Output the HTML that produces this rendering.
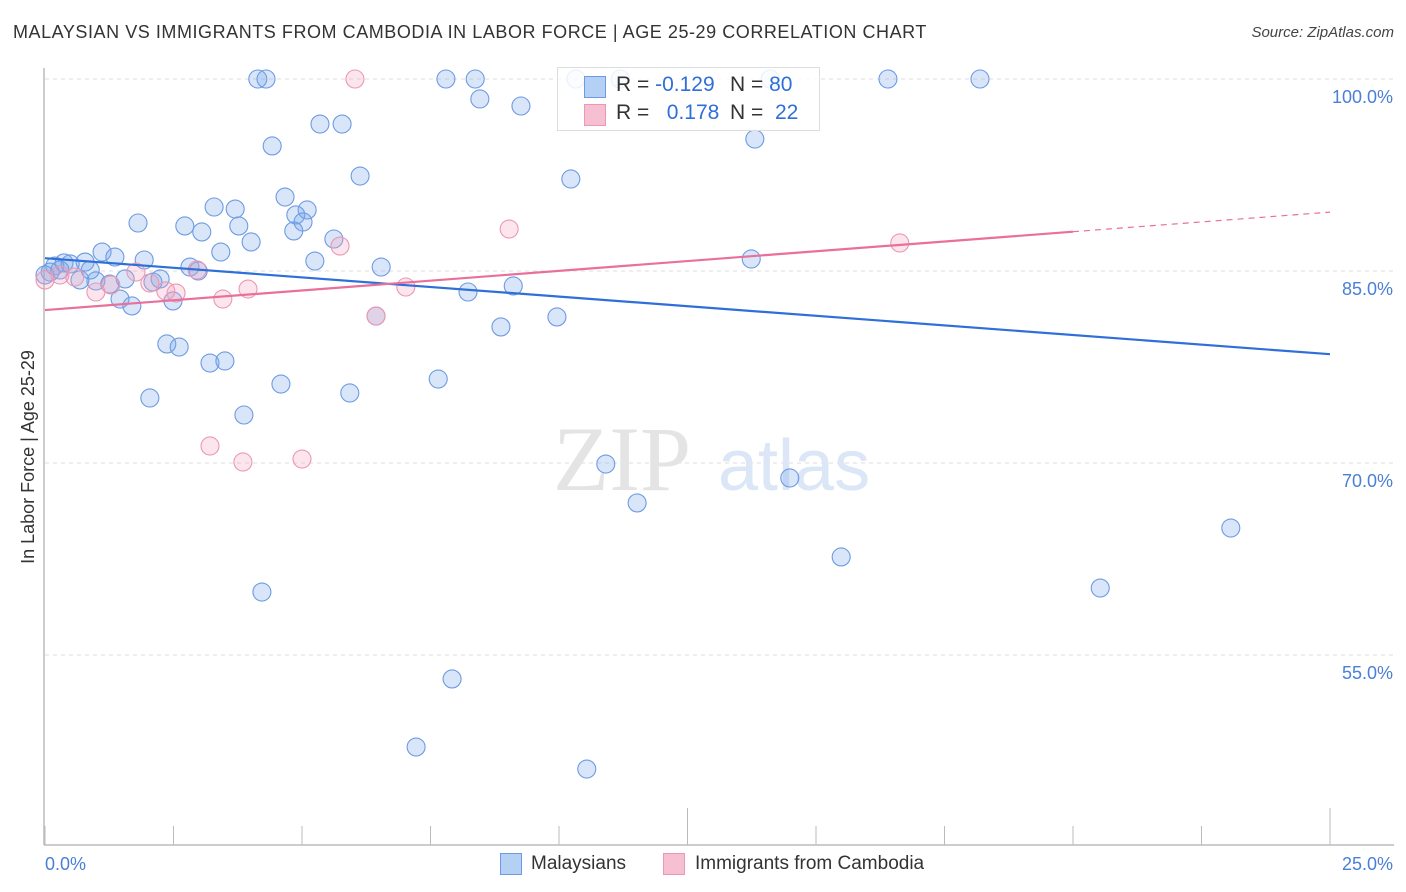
<!DOCTYPE html>
<html><head><meta charset="utf-8">
<style>
body{margin:0;background:#fff;font-family:"Liberation Sans",sans-serif;}
#wrap{position:relative;width:1406px;height:892px;overflow:hidden;}
.t{position:absolute;white-space:nowrap;}
</style></head>
<body>
<div id="wrap">
<div class="t" style="left:13px;top:22px;font-size:18px;color:#333;letter-spacing:0.55px">MALAYSIAN VS IMMIGRANTS FROM CAMBODIA IN LABOR FORCE | AGE 25-29 CORRELATION CHART</div>
<div class="t" style="right:12px;top:24px;font-size:15px;color:#444;font-style:italic">Source: ZipAtlas.com</div>
<svg id="svg" width="1406" height="892" style="position:absolute;left:0;top:0"></svg>
</div>
<script>
const blueX=[4.14,4.30,7.80,8.37,10.33,11.19,14.11,16.40,18.19,8.46,9.26,5.35,5.78,4.42,13.81,6.13,10.23,4.67,3.29,3.70,5.10,4.88,1.81,2.72,5.02,3.05,3.77,4.84,5.62,4.01,3.42,1.11,1.36,1.93,5.25,6.54,13.74,0.37,0.78,0.19,0.49,0.10,2.82,2.98,1.56,0.99,0.68,2.24,2.10,1.26,9.11,8.23,1.46,1.69,2.49,9.96,8.87,6.44,2.37,2.61,3.21,3.50,4.59,7.65,5.93,2.04,3.87,10.91,14.49,11.52,23.07,15.49,20.53,4.22,7.92,7.22,10.54,0.0,0.29,0.88];
const blueY=[100,100,100,100,100,100,100,100,100,98.44,97.89,96.48,96.48,94.77,95.31,92.42,92.19,90.78,90.0,89.84,89.77,89.38,88.75,88.52,88.83,88.05,88.52,88.13,87.5,87.27,86.48,86.48,86.09,85.86,85.78,85.31,85.94,85.63,85.70,85.39,85.55,84.92,85.31,85.0,84.38,84.22,84.30,84.38,84.14,83.98,83.83,83.36,82.81,82.27,82.66,81.41,80.63,81.48,79.30,79.06,77.81,77.97,76.17,76.56,75.47,75.08,73.75,69.92,68.83,66.88,64.92,62.66,60.23,59.92,53.13,47.81,46.09,84.69,85.08,85.08];
const pinkX=[6.03,10.74,9.03,16.63,5.74,1.77,2.96,0.29,0.58,2.04,1.28,3.95,0.99,2.55,2.35,3.46,7.02,6.44,3.21,3.85,5.0,0.0];
const pinkY=[100,97.34,88.28,87.19,86.95,84.92,85.08,84.69,84.53,84.06,83.91,83.59,83.36,83.28,83.44,82.81,83.75,81.48,71.33,70.08,70.31,84.30];
const blueTrend=[86.0,78.5];
const pinkTrend=[81.95,89.6];
const yTicks=[100,85,70,55];
const xTickLabels=["0.0%","25.0%"];

const X0=45,X1=1330,Y100=79,PPY=12.8;
const sx=v=>X0+(X1-X0)*v/25;
const sy=v=>Y100+(100-v)*PPY;
const svg=document.getElementById('svg');
const NS='http://www.w3.org/2000/svg';
function mk(tag,attrs){const e=document.createElementNS(NS,tag);for(const k in attrs)e.setAttribute(k,attrs[k]);svg.appendChild(e);return e;}

yTicks.forEach(v=>{
 const g=mk('line',{x1:X0,x2:1394,y1:sy(v),y2:sy(v),stroke:'#ddd','stroke-dasharray':'4,4','stroke-width':1});
 
 
 const t=mk('text',{x:1393,y:sy(v)+24,'text-anchor':'end','font-size':18,fill:'#4a7fd6','font-family':'Liberation Sans, sans-serif'});
 t.textContent=v.toFixed(1)+'%';
 
 
});
let a=mk('line',{x1:44,x2:44,y1:68,y2:845,stroke:'#bbb','stroke-width':1.5});


a=mk('line',{x1:44,x2:1394,y1:845,y2:845,stroke:'#bbb','stroke-width':1.5});


for(let i=0;i<=10;i++){
 const x=X0+(X1-X0)*i/10;
 const tk=mk('line',{x1:x,x2:x,y1:(i==5||i==10)?808:826,y2:845,stroke:'#bbb','stroke-width':1});
 
 
}
[[X0,'start',xTickLabels[0]],[1393,'end',xTickLabels[1]]].forEach(([x,an,s])=>{
 const t=mk('text',{x:x,y:870,'text-anchor':an,'font-size':18,fill:'#4a7fd6','font-family':'Liberation Sans, sans-serif'});
 t.textContent=s;
 
 
});
let yt=mk('text',{x:34,y:457,'text-anchor':'middle','font-size':18,fill:'#333',transform:'rotate(-90 34 457)','font-family':'Liberation Sans, sans-serif'});
yt.textContent='In Labor Force | Age 25-29';


let w=mk('text',{x:553,y:490,'font-size':92,fill:'#e4e4e4','font-family':'Liberation Serif, serif'});w.textContent='ZIP';


w=mk('text',{x:718,y:490,'font-size':72,fill:'#dbe6f6','font-family':'Liberation Sans, sans-serif'});w.textContent='atlas';


blueX.forEach((x,i)=>{
 const c=mk('circle',{cx:sx(x),cy:sy(blueY[i]),r:9,fill:'rgba(120,165,235,0.28)',stroke:'#6d9be3','stroke-width':1.1});
 
 
});
pinkX.forEach((x,i)=>{
 const c=mk('circle',{cx:sx(x),cy:sy(pinkY[i]),r:9,fill:'rgba(245,160,190,0.28)',stroke:'#eb98b5','stroke-width':1.1});
 
 
});
let l=mk('line',{x1:sx(0),y1:sy(blueTrend[0]),x2:sx(25),y2:sy(blueTrend[1]),stroke:'#2f6fd8','stroke-width':2.2});


const py=x=>pinkTrend[0]+(pinkTrend[1]-pinkTrend[0])*x/25;
l=mk('line',{x1:sx(0),y1:sy(py(0)),x2:sx(20),y2:sy(py(20)),stroke:'#e8709a','stroke-width':2.2});


l=mk('line',{x1:sx(20),y1:sy(py(20)),x2:sx(25),y2:sy(py(25)),stroke:'#e8709a','stroke-width':1.2,'stroke-dasharray':'6,5'});


</script>
<div class="t" style="left:557px;top:67px;width:261px;height:62px;border:1px solid #ddd;background:rgba(255,255,255,0.85);font-size:21px;color:#333">
 <div style="position:absolute;left:26px;top:8px;width:20px;height:20px;background:#b5d0f5;border:1px solid #6d9be3"></div>
 <div class="t" style="left:58px;top:5px">R = <span style="color:#2f6fd8">-0.129</span></div>
 <div class="t" style="left:172px;top:5px">N = <span style="color:#2f6fd8">80</span></div>
 <div style="position:absolute;left:26px;top:36px;width:20px;height:20px;background:#f7c0d2;border:1px solid #eb98b5"></div>
 <div class="t" style="left:58px;top:33px">R = &nbsp;&nbsp;<span style="color:#2f6fd8">0.178</span></div>
 <div class="t" style="left:172px;top:33px">N = &nbsp;<span style="color:#2f6fd8">22</span></div>
</div>
<div style="position:absolute;left:500px;top:853px;width:20px;height:20px;background:#b5d0f5;border:1px solid #6d9be3"></div>
<div class="t" style="left:531px;top:853px;font-size:19px;color:#333">Malaysians</div>
<div style="position:absolute;left:663px;top:853px;width:20px;height:20px;background:#f7c0d2;border:1px solid #eb98b5"></div>
<div class="t" style="left:695px;top:853px;font-size:19px;color:#333">Immigrants from Cambodia</div>
</body></html>
